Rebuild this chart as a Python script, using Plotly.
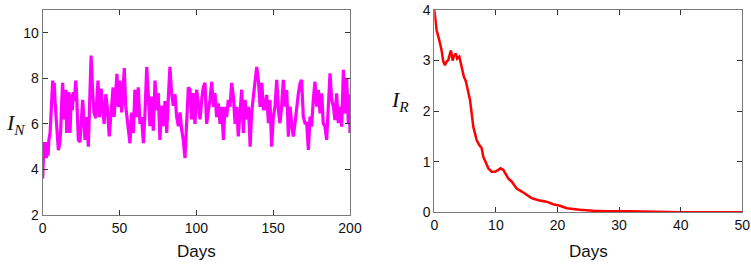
import plotly.graph_objects as go

# Left panel: I_N over 200 days
days_n = [0.0, 0.4, 0.8, 1.3, 1.8, 2.4, 3.0, 3.5, 4.0, 4.8, 5.8, 6.5, 7.0, 7.5, 8.1, 9.1, 10.2, 11.0, 11.7, 12.4,
          13.0, 13.8, 14.7, 15.2, 15.6, 16.3, 17.0, 17.8, 18.6, 19.3, 20.0, 20.6, 21.5, 22.0, 23.2, 24.3, 25.2, 26.0, 26.6, 27.5,
          28.6, 29.7, 30.5, 31.5, 32.6, 33.4, 34.5, 35.2, 36.0, 37.0, 38.0, 39.0, 40.0, 41.1, 42.2, 43.3, 44.4, 45.8, 46.5, 47.5,
          48.3, 49.2, 50.3, 51.4, 52.4, 53.1, 54.0, 55.3, 56.8, 57.9, 59.0, 60.0, 61.1, 62.2, 63.3, 64.4, 65.5, 66.6, 67.7, 68.7,
          69.8, 70.9, 72.0, 73.1, 74.2, 75.2, 76.3, 77.4, 78.5, 79.6, 80.7, 81.8, 82.8, 83.9, 85.0, 86.1, 87.2, 88.3, 89.4, 90.4,
          91.5, 92.6, 93.7, 94.8, 95.9, 96.9, 98.0, 99.1, 100.2, 101.3, 102.4, 103.5, 104.5, 105.6, 106.7, 107.8, 108.9, 110.0, 111.1, 112.1,
          113.2, 114.3, 115.4, 116.5, 117.6, 118.6, 119.7, 120.8, 121.9, 123.0, 124.1, 125.2, 126.3, 127.3, 128.4, 129.5, 130.6, 131.7, 132.8, 133.9,
          135.0, 136.0, 137.1, 138.2, 139.3, 140.4, 141.5, 142.6, 143.7, 144.7, 145.8, 146.9, 147.9, 149.0, 150.1, 151.2, 152.3, 153.4, 154.4, 155.5,
          156.6, 157.7, 158.8, 159.9, 161.0, 162.0, 163.1, 164.2, 165.3, 166.4, 167.5, 168.5, 169.6, 170.7, 171.8, 172.9, 174.0, 175.0, 176.1, 177.2,
          178.3, 179.4, 180.5, 181.6, 182.6, 183.7, 184.8, 185.9, 187.0, 188.1, 189.2, 190.2, 191.3, 192.4, 193.5, 194.6, 195.7, 196.7, 197.8, 198.9,
          199.5, 200.0]
values_n = [3.6, 4.3, 5.2, 4.6, 5.2, 4.5, 5.1, 4.6, 5.3, 5.6, 7.5, 7.9, 7.3, 7.8, 6.9, 5.7, 4.85, 5.1, 5.7, 7.0,
            7.8, 6.2, 7.2, 7.5, 5.6, 6.2, 7.4, 5.6, 7.3, 6.6, 7.4, 7.0, 7.9, 7.4, 5.3, 5.2, 6.2, 7.05, 6.5, 5.3,
            6.3, 5.0, 6.8, 9.0, 7.3, 6.5, 6.25, 7.3, 7.9, 6.3, 7.55, 6.7, 6.0, 7.3, 6.6, 5.45, 6.5, 7.6, 6.3, 7.6,
            8.2, 6.75, 7.9, 6.5, 8.0, 8.45, 6.8, 5.9, 5.15, 6.5, 5.6, 7.5, 6.3, 7.6, 6.0, 6.3, 5.15, 6.5, 8.5, 7.3,
            5.9, 7.2, 5.7, 7.9, 6.6, 7.35, 5.3, 6.8, 5.9, 7.0, 5.6, 7.2, 8.5, 7.35, 6.8, 7.3, 6.3, 5.9, 6.5, 5.75,
            5.3, 4.5, 6.5, 7.6, 7.5, 6.2, 7.35, 6.0, 7.5, 6.8, 6.2, 7.05, 7.6, 7.8, 6.0, 6.6, 7.05, 7.85, 6.75, 7.35,
            6.3, 6.9, 6.0, 6.75, 5.3, 6.75, 6.3, 7.05, 6.75, 7.8, 7.2, 6.0, 6.75, 5.45, 6.75, 7.5, 5.6, 7.05, 6.2, 6.75,
            5.0, 6.5, 7.2, 7.9, 8.5, 7.9, 6.75, 7.8, 6.6, 6.76, 7.27, 6.03, 7.05, 5.0, 6.32, 6.76, 7.93, 6.61, 6.03, 6.76,
            7.93, 6.76, 7.49, 5.44, 6.76, 6.03, 5.44, 6.03, 6.76, 7.34, 7.78, 7.93, 6.32, 6.03, 6.03, 4.86, 6.32, 5.88, 7.05, 7.85,
            6.76, 7.49, 6.46, 7.34, 6.03, 5.88, 5.3, 6.9, 8.22, 7.05, 6.76, 6.17, 7.34, 6.03, 6.76, 5.88, 8.37, 6.46, 8.0, 6.03,
            7.3, 5.6]

# Right panel: I_R over 50 days
days_r = [0.0, 0.38, 0.81, 1.19, 1.46, 1.73, 2.0, 2.27, 2.54, 2.7, 2.98, 3.2, 3.5, 3.7, 4.06, 4.4, 4.8, 5.1, 5.36, 5.8,
          6.06, 6.33, 6.6, 6.87, 7.3, 7.68, 7.95, 8.39, 8.77, 9.3, 9.85, 10.4, 10.77, 11.2, 11.6, 12.0, 12.55, 13.37, 14.2, 15.0,
          15.8, 16.9, 18.2, 19.3, 20.4, 21.5, 22.6, 23.6, 25.8, 28.0, 31.8, 34.5, 40.0, 50.0]
values_r = [4.0, 3.6, 3.4, 3.2, 2.98, 2.91, 2.98, 3.01, 3.14, 3.2, 3.0, 3.1, 3.14, 3.04, 3.08, 2.88, 2.68, 2.6, 2.45, 2.22,
            1.96, 1.69, 1.56, 1.43, 1.33, 1.27, 1.10, 0.97, 0.87, 0.80, 0.80, 0.84, 0.87, 0.84, 0.74, 0.67, 0.61, 0.47, 0.41, 0.34,
            0.28, 0.24, 0.21, 0.16, 0.13, 0.08, 0.06, 0.05, 0.03, 0.02, 0.02, 0.01, 0.003, 0.001]

ticks_x_left = [0, 50, 100, 150, 200]
ticks_y_left = [2, 4, 6, 8, 10]
ticks_x_right = [0, 10, 20, 30, 40, 50]
ticks_y_right = [0, 1, 2, 3, 4]

W, H = 751, 264
fig = go.Figure()
fig.add_trace(go.Scatter(x=days_n, y=values_n, mode="lines",
                         line=dict(color="#ff00ff", width=3.2), xaxis="x", yaxis="y"))
fig.add_trace(go.Scatter(x=days_r, y=values_r, mode="lines",
                         line=dict(color="#ff0000", width=2.5), xaxis="x2", yaxis="y2"))

axcommon = dict(showline=True, linecolor="#7a7a7a", linewidth=1, mirror="ticks",
                ticks="inside", ticklen=5, tickcolor="#333333", showgrid=False, zeroline=False,
                tickfont=dict(family="Arial, Liberation Sans, sans-serif", size=14, color="#111111"))

fig.update_layout(
    width=W, height=H,
    margin=dict(l=0, r=0, t=0, b=0, autoexpand=False),
    paper_bgcolor="white", plot_bgcolor="white", showlegend=False,
    xaxis=dict(domain=[42.7 / W, 350 / W], range=[0, 200], tickvals=ticks_x_left, anchor="y", **axcommon),
    yaxis=dict(domain=[(H - 215) / H, (H - 10) / H], range=[2, 11], tickvals=ticks_y_left, anchor="x", **axcommon),
    xaxis2=dict(domain=[434.3 / W, 742.3 / W], range=[0, 50], tickvals=ticks_x_right, anchor="y2", **axcommon),
    yaxis2=dict(domain=[(H - 212.3) / H, (H - 10) / H], range=[0, 4], tickvals=ticks_y_right, anchor="x2", **axcommon),
)

lab = dict(family="Arial, Liberation Sans, sans-serif", size=17, color="#111111")
mathf = dict(family="Times New Roman, Liberation Serif, serif", size=22, color="#111111")
fig.add_annotation(text="Days", x=196 / W, y=1 - 251 / H, xref="paper", yref="paper",
                   showarrow=False, font=lab, xanchor="center", yanchor="middle")
fig.add_annotation(text="Days", x=588 / W, y=1 - 251 / H, xref="paper", yref="paper",
                   showarrow=False, font=lab, xanchor="center", yanchor="middle")
fig.add_annotation(text="<i>I</i><sub><i>N</i></sub>", x=15 / W, y=1 - 124 / H, xref="paper", yref="paper",
                   showarrow=False, font=mathf, xanchor="center", yanchor="middle")
fig.add_annotation(text="<i>I</i><sub><i>R</i></sub>", x=400 / W, y=1 - 101 / H, xref="paper", yref="paper",
                   showarrow=False, font=mathf, xanchor="center", yanchor="middle")

fig.write_html("out.html", config={"displayModeBar": False},
               post_script="document.body.style.margin='0';document.body.style.overflow='hidden';")
